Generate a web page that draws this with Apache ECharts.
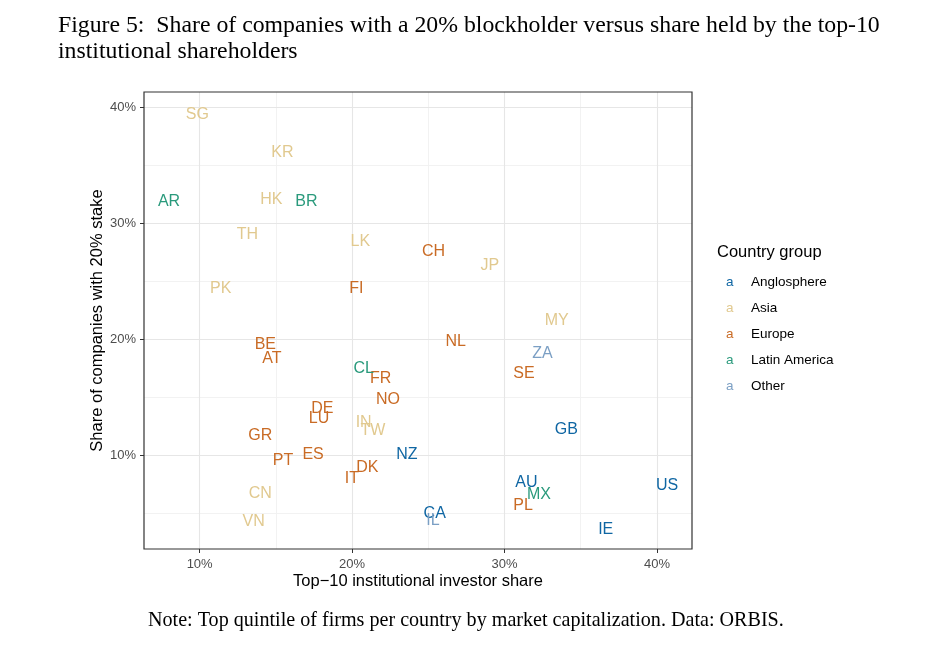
<!DOCTYPE html>
<html>
<head>
<meta charset="utf-8">
<script src="https://cdn.jsdelivr.net/npm/echarts@6/dist/echarts.min.js"></script>
<style>
html,body{margin:0;padding:0;background:#fff;}
#chart{width:944px;height:659px;}
</style>
</head>
<body>
<div id="chart"></div>
<script>
// ---- Data (x: top-10 institutional investor share %, y: share of companies with 20% stake %) ----
const groups = ['Anglosphere', 'Asia', 'Europe', 'Latin America', 'Other'];
const groupColors = ['#0f66a3', '#e1c98f', '#c96b25', '#2a9a7c', '#7b9fc4'];

const angloCountries = ['GB', 'NZ', 'US', 'AU', 'CA', 'IE'];
const angloX = [34.06, 23.60, 40.66, 31.44, 25.42, 36.64];
const angloY = [12.19, 10.10, 7.40, 7.61, 4.97, 3.59];

const asiaCountries = ['SG', 'KR', 'HK', 'TH', 'LK', 'PK', 'JP', 'MY', 'IN', 'TW', 'CN', 'VN'];
const asiaX = [9.85, 15.43, 14.70, 13.13, 20.54, 11.38, 29.03, 33.43, 20.76, 21.37, 13.98, 13.54];
const asiaY = [39.36, 36.07, 32.05, 29.05, 28.44, 24.32, 26.38, 21.57, 12.82, 12.11, 6.69, 4.26];

const europeCountries = ['FI', 'CH', 'NL', 'BE', 'AT', 'FR', 'SE', 'NO', 'DE', 'LU', 'GR', 'ES', 'PT', 'DK', 'IT', 'PL'];
const europeX = [20.28, 25.35, 26.80, 14.31, 14.74, 21.88, 31.28, 22.36, 18.05, 17.83, 13.98, 17.44, 15.47, 21.00, 19.99, 31.22];
const europeY = [24.32, 27.52, 19.79, 19.50, 18.30, 16.64, 17.01, 14.83, 14.06, 13.14, 11.68, 10.04, 9.55, 8.90, 7.98, 5.66];

const latamCountries = ['AR', 'BR', 'CL', 'MX'];
const latamX = [7.99, 17.00, 20.76, 32.26];
const latamY = [31.88, 31.82, 17.50, 6.60];

const otherCountries = ['ZA', 'IL'];
const otherX = [32.49, 25.31];
const otherY = [18.73, 4.37];

// axis ticks / grid
const xTicks = [10, 20, 30, 40];
const yTicks = [10, 20, 30, 40];
const xMinor = [15, 25, 35];
const yMinor = [5, 15, 25, 35];
const xRange = [6.35, 42.3];
const yRange = [1.93, 41.29];

const titleText = 'Figure 5:  Share of companies with a 20% blockholder versus share held by the top-10\ninstitutional shareholders';
const noteText = 'Note: Top quintile of firms per country by market capitalization. Data: ORBIS.';
const xName = 'Top\u221210 institutional investor share';
const yName = 'Share of companies with 20% stake';

// ---- build ----
function fitSize(text, family, target, maxSize) {
  const c = document.createElement('canvas').getContext('2d');
  c.font = '100px ' + family;
  const w = c.measureText(text).width;
  return Math.min(maxSize, 100 * target / w);
}
const serif = '"Liberation Serif", "DejaVu Serif", serif';
const sans = '"Liberation Sans", Arial, Helvetica, sans-serif';
const titleSize = fitSize(titleText.split('\n')[0], serif, 822, 24);
const noteSize = fitSize(noteText, serif, 636, 21);

const groupData = [
  [angloCountries, angloX, angloY],
  [asiaCountries, asiaX, asiaY],
  [europeCountries, europeX, europeY],
  [latamCountries, latamX, latamY],
  [otherCountries, otherX, otherY]
];

const series = groups.map((g, gi) => {
  const [names, xs, ys] = groupData[gi];
  return {
    name: g,
    type: 'scatter',
    symbolSize: 0,
    itemStyle: { color: groupColors[gi], opacity: 1 },
    data: names.map((n, i) => [xs[i], ys[i], n]),
    label: {
      show: true,
      position: 'inside',
      formatter: p => p.value[2],
      color: groupColors[gi],
      opacity: 1,
      textBorderWidth: 0,
      fontFamily: sans,
      fontSize: 16
    },
    emphasis: { disabled: true },
    silent: true,
    z: 5
  };
});

const gridLine = (key, v, major) => ({ [key]: v, lineStyle: { color: major ? '#e6e6e6' : '#f0f0f0', width: major ? 1.1 : 0.9, type: 'solid' } });
series.unshift({
  type: 'scatter',
  data: [],
  silent: true,
  z: -1,
  markLine: {
    silent: true,
    symbol: ['none', 'none'],
    label: { show: false },
    animation: false,
    data: [
      ...xMinor.map(v => gridLine('xAxis', v, false)),
      ...yMinor.map(v => gridLine('yAxis', v, false)),
      ...xTicks.map(v => gridLine('xAxis', v, true)),
      ...yTicks.map(v => gridLine('yAxis', v, true))
    ]
  }
});

const richLegend = { t: { fontFamily: sans, fontSize: 13.5, color: '#000', lineHeight: 16 } };
groupColors.forEach((c, i) => {
  richLegend['c' + i] = { fontFamily: sans, fontSize: 13.5, color: c, width: 25, lineHeight: 16 };
});

const chart = echarts.init(document.getElementById('chart'), null, { renderer: 'canvas' });
chart.setOption({
  animation: false,
  backgroundColor: '#fff',
  title: [
    { text: titleText, left: 53, top: 8, textStyle: { fontFamily: serif, fontSize: titleSize, fontWeight: 'normal', color: '#000', lineHeight: 26 } },
    { text: noteText, left: 143, top: 606, textStyle: { fontFamily: serif, fontSize: noteSize, fontWeight: 'normal', color: '#000' } }
  ],
  grid: { left: 144, right: 252, top: 92, bottom: 110, show: true, borderColor: '#333', borderWidth: 1.2, backgroundColor: 'transparent', containLabel: false, z: 10 },
  xAxis: {
    type: 'value',
    min: xRange[0], max: xRange[1],
    name: xName, nameLocation: 'middle', nameGap: 24, nameMoveOverlap: false,
    nameTextStyle: { fontFamily: sans, fontSize: 16.5, color: '#000' },
    axisLine: { show: false },
    axisTick: { show: true, length: 4, lineStyle: { color: '#333' }, customValues: xTicks },
    axisLabel: { customValues: xTicks, formatter: v => v + '%', fontFamily: sans, fontSize: 13, color: '#4d4d4d', margin: 9 },
    splitLine: { show: false }
  },
  yAxis: {
    type: 'value',
    min: yRange[0], max: yRange[1],
    name: yName, nameLocation: 'middle', nameGap: 38, nameMoveOverlap: false,
    nameTextStyle: { fontFamily: sans, fontSize: 16.5, color: '#000' },
    axisLine: { show: false },
    axisTick: { show: true, length: 4, lineStyle: { color: '#333' }, customValues: yTicks },
    axisLabel: { customValues: yTicks, formatter: v => v + '%', fontFamily: sans, fontSize: 13, color: '#4d4d4d', margin: 8 },
    splitLine: { show: false }
  },
  legend: {
    data: groups,
    orient: 'vertical',
    left: 716, top: 270,
    itemWidth: 0, itemHeight: 0, itemGap: 12,
    icon: 'circle',
    selectedMode: false,
    formatter: name => '{c' + groups.indexOf(name) + '|a}{t|' + name + '}',
    textStyle: { rich: richLegend, padding: 0 }
  },
  graphic: [
    { type: 'text', left: 717, top: 244, style: { text: 'Country group', font: '16.5px ' + sans, fill: '#000' } }
  ],
  series: series
});
</script>
</body>
</html>
